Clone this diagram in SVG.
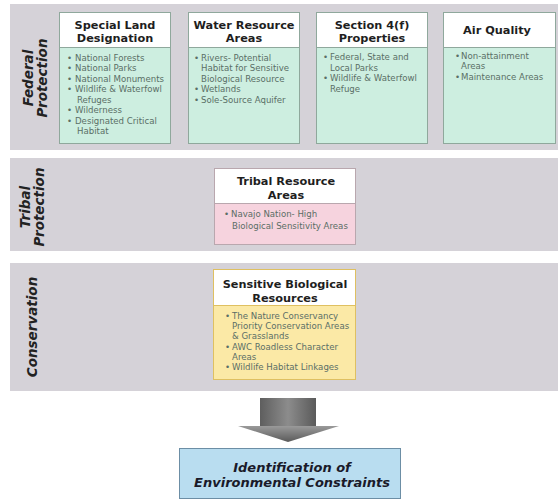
<svg xmlns="http://www.w3.org/2000/svg" width="558" height="499" viewBox="0 0 558 499">
<defs>
<linearGradient id="shaft" x1="0" y1="0" x2="1" y2="0">
<stop offset="0" stop-color="#5e5e5e"/>
<stop offset="0.5" stop-color="#8c8c8c"/>
<stop offset="1" stop-color="#5a5a5a"/>
</linearGradient>
<linearGradient id="head" x1="0" y1="0" x2="0" y2="1">
<stop offset="0" stop-color="#9a9a9a"/>
<stop offset="1" stop-color="#5a5a5a"/>
</linearGradient>
</defs>
<style>
.band{fill:#d5d2d8}
.lbl{font-family:"DejaVu Sans",Verdana,sans-serif;font-weight:bold;font-style:italic;font-size:13.5px;fill:#222;text-anchor:middle}
.hdr{fill:#ffffff}
.hd{font-family:"DejaVu Sans",Verdana,sans-serif;font-weight:bold;font-size:11.3px;fill:#1e1e1e;text-anchor:middle}
.bd{font-family:"DejaVu Sans",Verdana,sans-serif;font-size:8.6px;fill:#5a6e66}
.green{fill:#cdeee0;stroke:#8fa89c;stroke-width:1}
.pink{fill:#f6d3de;stroke:#b9a7ae;stroke-width:1}
.yellow{fill:#fbe9a6;stroke:#dfc061;stroke-width:1}
.fin{font-family:"DejaVu Sans",Verdana,sans-serif;font-weight:bold;font-style:italic;font-size:13px;fill:#1a1a2a;text-anchor:middle}
</style>
<rect x="0" y="0" width="558" height="499" fill="#ffffff"/>

<g id="band-federal">
<rect class="band" x="10" y="4" width="548" height="146"/>
<text class="lbl" transform="translate(33,78) rotate(-90)">Federal</text>
<text class="lbl" transform="translate(47,78) rotate(-90)">Protection</text>
</g>
<g id="band-tribal">
<rect class="band" x="10" y="158" width="548" height="93"/>
<text class="lbl" transform="translate(30,207) rotate(-90)">Tribal</text>
<text class="lbl" transform="translate(44,207) rotate(-90)">Protection</text>
</g>
<g id="band-conservation">
<rect class="band" x="10" y="263" width="548" height="128"/>
<text class="lbl" transform="translate(37,327) rotate(-90)">Conservation</text>
</g>

<g id="special-land">
<rect class="green" x="59.5" y="12.5" width="111" height="131"/>
<rect class="hdr" x="60" y="13" width="110" height="34"/>
<line x1="60" y1="47.5" x2="170" y2="47.5" stroke="#8fa89c"/>
<text class="hd" x="115" y="28.5">Special Land</text>
<text class="hd" x="115" y="42">Designation</text>
<text class="bd"><tspan x="67" y="60.5">•</tspan><tspan x="75">National Forests</tspan>
<tspan x="67" y="71">•</tspan><tspan x="75">National Parks</tspan>
<tspan x="67" y="81.5">•</tspan><tspan x="75">National Monuments</tspan>
<tspan x="67" y="92">•</tspan><tspan x="75">Wildlife &amp; Waterfowl</tspan>
<tspan x="77" y="102.5">Refuges</tspan>
<tspan x="67" y="113">•</tspan><tspan x="75">Wilderness</tspan>
<tspan x="67" y="123.5">•</tspan><tspan x="75">Designated Critical</tspan>
<tspan x="77" y="134">Habitat</tspan></text>
</g>

<g id="water-resource">
<rect class="green" x="188.5" y="12.5" width="111" height="131"/>
<rect class="hdr" x="189" y="13" width="110" height="34"/>
<line x1="189" y1="47.5" x2="299" y2="47.5" stroke="#8fa89c"/>
<text class="hd" x="244" y="28.5">Water Resource</text>
<text class="hd" x="244" y="42">Areas</text>
<text class="bd"><tspan x="194" y="60.5">•</tspan><tspan x="201">Rivers- Potential</tspan>
<tspan x="201" y="71">Habitat for Sensitive</tspan>
<tspan x="201" y="81.5">Biological Resource</tspan>
<tspan x="194" y="92">•</tspan><tspan x="201">Wetlands</tspan>
<tspan x="194" y="102.5">•</tspan><tspan x="201">Sole-Source Aquifer</tspan></text>
</g>

<g id="section-4f">
<rect class="green" x="316.5" y="12.5" width="111" height="131"/>
<rect class="hdr" x="317" y="13" width="110" height="34"/>
<line x1="317" y1="47.5" x2="427" y2="47.5" stroke="#8fa89c"/>
<text class="hd" x="372" y="28.5">Section 4(f)</text>
<text class="hd" x="372" y="42">Properties</text>
<text class="bd"><tspan x="323" y="60">•</tspan><tspan x="330">Federal, State and</tspan>
<tspan x="330" y="70.5">Local Parks</tspan>
<tspan x="323" y="81">•</tspan><tspan x="330">Wildlife &amp; Waterfowl</tspan>
<tspan x="330" y="91.5">Refuge</tspan></text>
</g>

<g id="air-quality">
<rect class="green" x="443.5" y="12.5" width="112" height="131"/>
<rect class="hdr" x="444" y="13" width="111" height="34"/>
<line x1="444" y1="47.5" x2="555" y2="47.5" stroke="#8fa89c"/>
<text class="hd" x="497" y="33.5">Air Quality</text>
<text class="bd"><tspan x="455" y="59">•</tspan><tspan x="461">Non-attainment</tspan>
<tspan x="461" y="69">Areas</tspan>
<tspan x="455" y="80">•</tspan><tspan x="461">Maintenance Areas</tspan></text>
</g>

<g id="tribal-resource">
<rect class="pink" x="214.5" y="168.5" width="141" height="76"/>
<rect class="hdr" x="215" y="169" width="140" height="34"/>
<line x1="215" y1="203.5" x2="355" y2="203.5" stroke="#b9a7ae"/>
<text class="hd" x="286" y="185">Tribal Resource</text>
<text class="hd" x="286" y="198.5">Areas</text>
<text class="bd"><tspan x="224" y="217">•</tspan><tspan x="231">Navajo Nation- High</tspan>
<tspan x="232" y="229">Biological Sensitivity Areas</tspan></text>
</g>

<g id="sensitive-bio">
<rect class="yellow" x="213.5" y="269.5" width="142" height="110"/>
<rect class="hdr" x="214" y="270" width="141" height="35"/>
<line x1="214" y1="305.5" x2="355" y2="305.5" stroke="#dfc061"/>
<text class="hd" x="285" y="288">Sensitive Biological</text>
<text class="hd" x="285" y="302">Resources</text>
<text class="bd"><tspan x="225" y="319">•</tspan><tspan x="232">The Nature Conservancy</tspan>
<tspan x="232" y="329.2">Priority Conservation Areas</tspan>
<tspan x="232" y="339.4">&amp; Grasslands</tspan>
<tspan x="225" y="349.6">•</tspan><tspan x="232">AWC Roadless Character</tspan>
<tspan x="232" y="359.8">Areas</tspan>
<tspan x="225" y="370">•</tspan><tspan x="232">Wildlife Habitat Linkages</tspan></text>
</g>

<g id="connectors">
<rect x="260" y="398" width="56" height="29" fill="url(#shaft)"/>
<polygon points="238,426 339,426 288,442" fill="url(#head)"/>
</g>

<g id="env-constraints">
<rect x="179.5" y="448.5" width="221" height="50" fill="#b9ddf0" stroke="#6c8ea5"/>
<text class="fin" x="292" y="472">Identification of</text>
<text class="fin" x="292" y="487">Environmental Constraints</text>
</g>
</svg>
